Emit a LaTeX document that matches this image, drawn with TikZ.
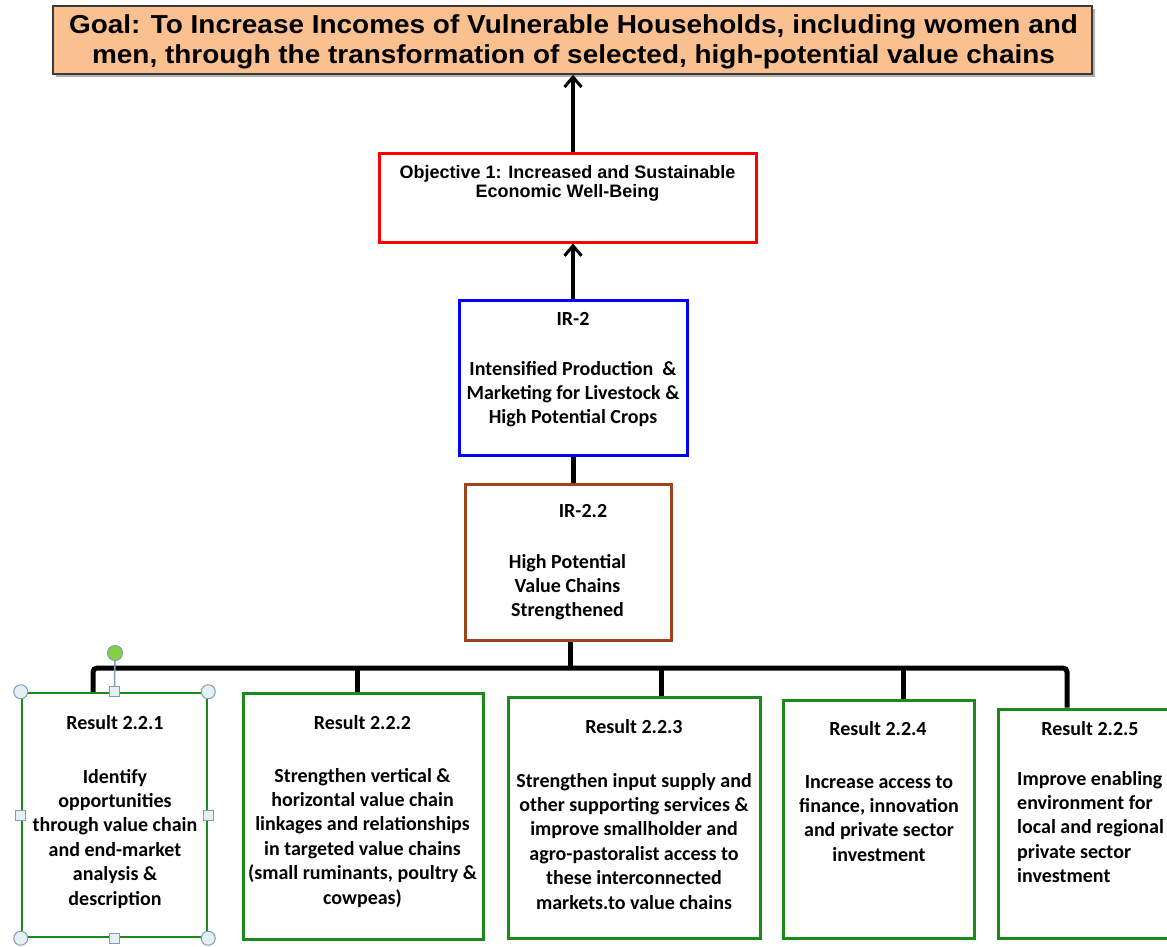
\documentclass[tikz,border=0pt]{standalone}
\usepackage{fontspec}
\usepackage{graphicx}
\newfontfamily\carlito{Carlito}
\newfontfamily\libsans{Liberation Sans}
\usetikzlibrary{arrows.meta}
\definecolor{peach}{HTML}{FAC090}
\definecolor{goalborder}{HTML}{3A3A3A}
\definecolor{objred}{HTML}{FF0000}
\definecolor{irblue}{HTML}{0000FF}
\definecolor{irbrown}{HTML}{A0441C}
\definecolor{resgreen}{HTML}{1A8A1A}
\definecolor{handleline}{HTML}{7F9DB9}
\definecolor{handlefill}{HTML}{E4F0F4}
\definecolor{rotgreen}{HTML}{84D040}
\tikzset{
  boxnode/.style={draw, line width=3pt, inner sep=0pt, fill=white},
  resbox/.style={boxnode, draw=resgreen},
  cal/.style={font=\carlito\bfseries\fontsize{20}{24.4}\selectfont, inner sep=0pt, anchor=base},
  calc/.style={cal, align=center},
  arrowline/.style={line width=3.5pt, -{Straight Barb[length=10pt,width=17pt,line width=3pt]}},
  busline/.style={line width=5pt},
  cornerhandle/.style={circle, draw=handleline, fill=handlefill, line width=1pt, minimum size=14pt, inner sep=0pt},
  sidehandle/.style={rectangle, draw=handleline, fill=handlefill, line width=1pt, minimum size=10pt, inner sep=0pt},
}
\begin{document}
\begin{tikzpicture}[x=1pt,y=-1pt]
\useasboundingbox[fill=white] (0,0) rectangle (1167,946);

% ---- Goal ----
\fill[gray!60] (56,9) rectangle (1095,77);
\node[draw=goalborder, fill=peach, line width=1.5pt, inner sep=0pt, minimum width=1039pt, minimum height=68pt] (goal) at (572.5,40) {};
\node[inner sep=0pt, anchor=base] (tgoal) at (573.5,33) {\scalebox{1.075}[1]{\libsans\bfseries\fontsize{26}{30}\selectfont\begin{tabular}[t]{@{}c@{}}Goal: To Increase Incomes of Vulnerable Households, including women and\\ men, through the transformation of selected, high-potential value chains\end{tabular}}};

% ---- Objective ----
\node[boxnode, draw=objred, minimum width=377pt, minimum height=89pt] (obj) at (567.5,197.5) {};
\node[inner sep=0pt, anchor=base, align=center, font=\libsans\bfseries\fontsize{18}{19.5}\selectfont] (tobj) at (567.5,197.5) {Objective 1: Increased and Sustainable\\Economic Well-Being};

% ---- IR-2 ----
\node[boxnode, draw=irblue, minimum width=228pt, minimum height=155pt] (ir2) at (573,377.5) {};
\node[cal] (tir2h) at (573,325) {IR-2};
\node[calc] (tir2b) at (573,423.8) {Intensified Production \ \&\\Marketing for Livestock \&\\High Potential Crops};

% ---- IR-2.2 ----
\node[boxnode, draw=irbrown, minimum width=206pt, minimum height=156pt] (ir22) at (568,562) {};
\node[cal] (tir22h) at (583,517) {IR-2.2};
\node[calc] (tir22b) at (567.5,616.8) {High Potential\\Value Chains\\Strengthened};

% ---- Results ----
\node[resbox, line width=2.5pt, minimum width=185pt, minimum height=244pt] (r1) at (114.5,815) {};
\node[resbox, minimum width=240pt, minimum height=246pt] (r2) at (363,816) {};
\node[resbox, minimum width=252pt, minimum height=241pt] (r3) at (634,817.5) {};
\node[resbox, minimum width=191pt, minimum height=238pt] (r4) at (878.5,819) {};
\node[resbox, minimum width=171pt, minimum height=229pt] (r5) at (1083.5,823.5) {};

\node[cal] (t1h) at (115,729) {Result 2.2.1};
\node[calc] (t1b) at (115,905) {Identify\\opportunities\\through value chain\\and end-market\\analysis \&\\description};
\node[cal] (t2h) at (362.5,729) {Result 2.2.2};
\node[calc] (t2b) at (362.5,904) {Strengthen vertical \&\\horizontal value chain\\linkages and relationships\\in targeted value chains\\(small ruminants, poultry \&\\cowpeas)};
\node[cal] (t3h) at (634,733) {Result 2.2.3};
\node[calc] (t3b) at (634,909) {Strengthen input supply and\\other supporting services \&\\improve smallholder and\\agro-pastoralist access to\\these interconnected\\markets.to value chains};
\node[cal] (t4h) at (878,735) {Result 2.2.4};
\node[calc] (t4b) at (879,861.2) {Increase access to\\finance, innovation\\and private sector\\investment};
\node[cal] (t5h) at (1090,735) {Result 2.2.5};
\node[cal, align=left, anchor=base west] (t5b) at (1017,882.6) {Improve enabling\\environment for\\local and regional\\private sector\\investment};

% ---- connectors ----
\draw[arrowline] (ir2.north |- obj.north) -- (ir2.north |- goal.south);
\draw[arrowline] (ir2.north) -- (ir2.north |- obj.south);
\draw[busline] (ir2.south) -- (ir2.south |- ir22.north);

\coordinate (bus) at (570,668);
\coordinate (d1) at (93,668);
\coordinate (d2) at (357,668);
\coordinate (d3) at (661,668);
\coordinate (d4) at (903,668);
\coordinate (d5) at (1067,668);
\draw[busline] (ir22.south -| bus) -- (bus);
\draw[busline, rounded corners=4pt] (d1 |- r1.north) -- (d1) -- (d5) -- (d5 |- r5.north);
\draw[busline] (d2) -- (d2 |- r2.north);
\draw[busline] (d3) -- (d3 |- r3.north);
\draw[busline] (d4) -- (d4 |- r4.north);

% ---- selection handles on Result 2.2.1 ----
\node[circle, draw=handleline, fill=rotgreen, line width=1pt, minimum size=15pt, inner sep=0pt] (rot) at (115,653) {};
\draw[handleline, line width=1.5pt] (rot) -- (r1.north);
\node[cornerhandle] (h1) at (r1.north west) {};
\node[cornerhandle] (h2) at (r1.north east) {};
\node[cornerhandle] (h3) at (r1.south west) {};
\node[cornerhandle] (h4) at (r1.south east) {};
\node[sidehandle] (h5) at (r1.north) {};
\node[sidehandle] (h6) at (r1.west) {};
\node[sidehandle] (h7) at (r1.east) {};
\node[sidehandle] (h8) at (r1.south) {};
\end{tikzpicture}
\end{document}
